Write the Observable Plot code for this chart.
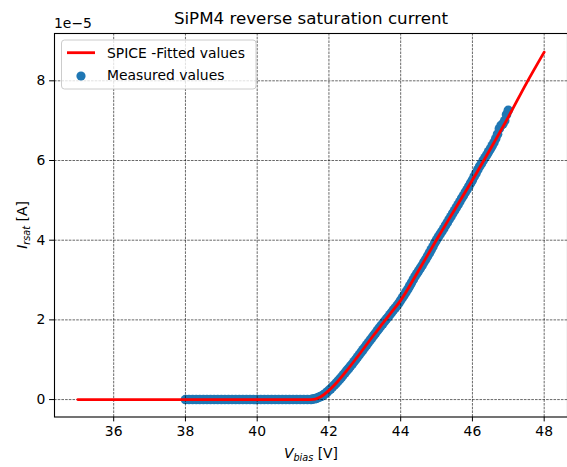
<!DOCTYPE html>
<html>
<head>
<meta charset="utf-8">
<script src="https://cdn.jsdelivr.net/npm/d3@7"></script>
<script src="https://cdn.jsdelivr.net/npm/@observablehq/plot@0.6"></script>
<style>
  html, body { margin: 0; padding: 0; background: #fff; }
  svg { display: block; }
</style>
</head>
<body>
<div id="chart"></div>
<script>
// Current values are in units of 1e-5 A (axis offset label "1e−5")
const fitV = [35, 36, 37, 38, 39, 40, 41, 41.5, 41.75, 42, 42.25, 42.5, 42.75, 43, 43.25, 43.5, 43.75, 44, 44.5, 45, 45.5, 46, 46.5, 47, 47.5, 48];
const fitI = [0, 0, 0, 0, 0, 0, 0, 0, 0.06, 0.23, 0.46, 0.73, 1.02, 1.32, 1.62, 1.91, 2.2, 2.49, 3.24, 4.01, 4.76, 5.51, 6.29, 7.09, 7.93, 8.72];

// Measured: flat part (38.0 .. 41.4 V)
const measFlatV = [38.0, 38.1, 38.2, 38.3, 38.4, 38.5, 38.6, 38.7, 38.8, 38.9,
  39.0, 39.1, 39.2, 39.3, 39.4, 39.5, 39.6, 39.7, 39.8, 39.9,
  40.0, 40.1, 40.2, 40.3, 40.4, 40.5, 40.6, 40.7, 40.8, 40.9,
  41.0, 41.1, 41.2, 41.3, 41.4];
const measFlatI = [0, 0, 0, 0, 0, 0, 0, 0, 0, 0,
  0, 0, 0, 0, 0, 0, 0, 0, 0, 0,
  0, 0, 0, 0, 0, 0, 0, 0, 0, 0,
  0, 0, 0, 0, 0];

// Measured: rising part (41.50 .. 47.00 V)
const measRiseV = [41.50, 41.55, 41.60, 41.65, 41.70, 41.75, 41.80, 41.85, 41.90, 41.95,
  42.00, 42.05, 42.10, 42.15, 42.20, 42.25, 42.30, 42.35, 42.40, 42.45,
  42.50, 42.55, 42.60, 42.65, 42.70, 42.75, 42.80, 42.85, 42.90, 42.95,
  43.00, 43.05, 43.10, 43.15, 43.20, 43.25, 43.30, 43.35, 43.40, 43.45,
  43.50, 43.55, 43.60, 43.65, 43.70, 43.75, 43.80, 43.85, 43.90, 43.95,
  44.00, 44.05, 44.10, 44.15, 44.20, 44.25, 44.30, 44.35, 44.40, 44.45,
  44.50, 44.55, 44.60, 44.65, 44.70, 44.75, 44.80, 44.85, 44.90, 44.95,
  45.00, 45.05, 45.10, 45.15, 45.20, 45.25, 45.30, 45.35, 45.40, 45.45,
  45.50, 45.55, 45.60, 45.65, 45.70, 45.75, 45.80, 45.85, 45.90, 45.95,
  46.00, 46.05, 46.10, 46.15, 46.20, 46.25, 46.30, 46.35, 46.40, 46.45,
  46.50, 46.55, 46.60, 46.65, 46.70, 46.75, 46.80, 46.85, 46.90, 46.95, 47.00];
const measRiseI = [0.00, 0.01, 0.02, 0.03, 0.05, 0.07, 0.09, 0.12, 0.15, 0.19,
  0.23, 0.27, 0.32, 0.36, 0.41, 0.46, 0.51, 0.56, 0.62, 0.67,
  0.73, 0.78, 0.84, 0.89, 0.95, 1.01, 1.07, 1.13, 1.19, 1.25,
  1.31, 1.37, 1.43, 1.49, 1.55, 1.61, 1.67, 1.73, 1.79, 1.85,
  1.90, 1.96, 2.02, 2.07, 2.13, 2.19, 2.25, 2.30, 2.36, 2.42,
  2.49, 2.56, 2.63, 2.70, 2.77, 2.85, 2.93, 3.01, 3.09, 3.16,
  3.23, 3.30, 3.37, 3.45, 3.52, 3.60, 3.68, 3.76, 3.84, 3.93,
  4.01, 4.08, 4.15, 4.22, 4.29, 4.37, 4.44, 4.52, 4.59, 4.67,
  4.74, 4.82, 4.89, 4.97, 5.05, 5.12, 5.20, 5.27, 5.35, 5.43,
  5.51, 5.60, 5.68, 5.77, 5.85, 5.92, 6.00, 6.07, 6.14, 6.22,
  6.29, 6.37, 6.45, 6.55, 6.66, 6.80, 6.88, 6.92, 7.00, 7.15, 7.26];

const xTicks = [36, 38, 40, 42, 44, 46, 48];
const yTicks = [0, 2, 4, 6, 8];

const fitted = fitV.map((v, i) => ({v, i: fitI[i]}));
const measured = measFlatV.map((v, i) => ({v, i: measFlatI[i]}))
  .concat(measRiseV.map((v, i) => ({v, i: measRiseI[i]})));

const W = 567, H = 467;
const FONT = "DejaVu Sans, Liberation Sans, sans-serif";
const dash = "2.6,1.1";

const chart = Plot.plot({
  width: W,
  height: H,
  marginLeft: 54,
  marginRight: 0,
  marginTop: 33,
  marginBottom: 50.5,
  style: {fontFamily: FONT, fontSize: "13.9px", color: "#000", background: "#fff"},
  x: {domain: [34.35, 48.65]},
  y: {domain: [-0.4375, 9.1875]},
  marks: [
    Plot.dot(measured, {x: "v", y: "i", r: 4.8, fill: "#1f77b4", stroke: "none"}),
    Plot.gridX(xTicks, {stroke: "#000", strokeOpacity: 0.85, strokeWidth: 0.7, strokeDasharray: dash}),
    Plot.gridY(yTicks, {stroke: "#000", strokeOpacity: 0.85, strokeWidth: 0.7, strokeDasharray: dash}),
    Plot.line(fitted, {x: "v", y: "i", stroke: "#ff0000", strokeWidth: 2.8, curve: "monotone-x"}),
    Plot.frame({stroke: "#000", strokeWidth: 1.1}),
    Plot.axisX(xTicks, {tickSize: 4.9, tickPadding: 4.2, label: null, tickFormat: d => String(d), fontSize: 13.9}),
    Plot.axisY(yTicks, {tickSize: 4.9, tickPadding: 4.2, label: null, tickFormat: d => String(d), fontSize: 13.9})
  ]
});

document.getElementById("chart").appendChild(chart);

const svg = d3.select(chart);
const g = svg.append("g").attr("font-family", FONT).attr("fill", "#000").attr("text-anchor", "start");

// Title
g.append("text").attr("x", 311).attr("y", 24).attr("text-anchor", "middle")
  .attr("font-size", 16.7).text("SiPM4 reverse saturation current");

// Offset text
g.append("text").attr("x", 54).attr("y", 28).attr("text-anchor", "start").attr("font-size", 13.9).text("1e\u22125");

// X label
const xl = g.append("text").attr("x", 311).attr("y", 458).attr("text-anchor", "middle").attr("font-size", 13.9);
xl.append("tspan").attr("font-style", "italic").text("V");
xl.append("tspan").attr("font-style", "italic").attr("font-size", 9.7).attr("dy", 3).text("bias");
xl.append("tspan").attr("dy", -3).text(" [V]");

// Y label
const yl = g.append("text").attr("transform", "translate(27,225) rotate(-90)").attr("text-anchor", "middle").attr("font-size", 13.9);
yl.append("tspan").attr("font-style", "italic").text("I");
yl.append("tspan").attr("font-style", "italic").attr("font-size", 9.7).attr("dy", 3).text("rsat");
yl.append("tspan").attr("dy", -3).text(" [A]");

// Legend
const lg = g.append("g");
lg.append("rect").attr("x", 61.5).attr("y", 40).attr("width", 194.5).attr("height", 49)
  .attr("rx", 3).attr("fill", "#fff").attr("fill-opacity", 0.8).attr("stroke", "#cccccc").attr("stroke-width", 1);
lg.append("line").attr("x1", 67).attr("x2", 95).attr("y1", 52.7).attr("y2", 52.7)
  .attr("stroke", "#ff0000").attr("stroke-width", 2.8);
lg.append("text").attr("x", 107).attr("y", 52.7).attr("dy", "0.35em").attr("text-anchor", "start").attr("font-size", 13.9).text("SPICE -Fitted values");
lg.append("circle").attr("cx", 81).attr("cy", 76).attr("r", 4.6).attr("fill", "#1f77b4");
lg.append("text").attr("x", 107).attr("y", 75).attr("dy", "0.35em").attr("text-anchor", "start").attr("font-size", 13.9).text("Measured values");
</script>
</body>
</html>
